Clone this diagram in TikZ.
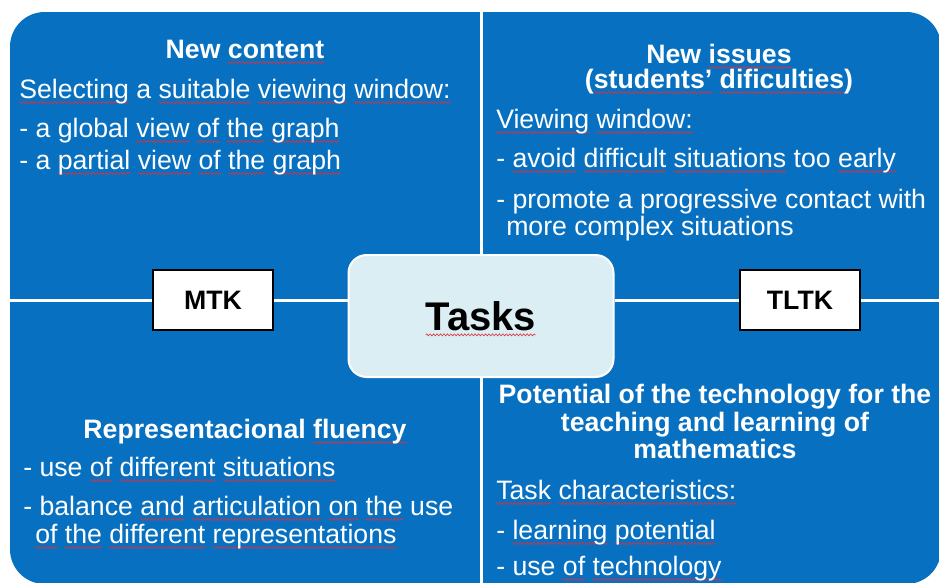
\documentclass[tikz,border=0pt]{standalone}
\usepackage{fontspec}
\setmainfont{Liberation Sans}
\usetikzlibrary{positioning,decorations.pathmorphing}
\definecolor{Panel}{HTML}{0870C0}
\definecolor{TaskFill}{HTML}{DAEEF3}
\definecolor{Squiggle}{HTML}{E0303A}
\newsavebox{\SpBox}
\newcommand{\Sp}[1]{%
  \sbox{\SpBox}{#1}%
  \rlap{\tikz[baseline=0pt]\draw[overlay,sharp corners,Squiggle,line width=0.45pt,decorate,
    decoration={zigzag,amplitude=0.75pt,segment length=2.6pt}] (0pt,-3.4pt) -- (\wd\SpBox,-3.4pt);}%
  \usebox{\SpBox}%
}
\newcommand{\BodyLine}[4]{%
  \node[txt,anchor=base west] (#1) at (#2,#3) {#4};%
}
\newcommand{\HeadLine}[4]{%
  \node[head,anchor=base] (#1) at (#2,#3) {#4};%
}
\tikzset{
  txt/.style={text=white,inner sep=0pt,font=\fontsize{20}{24}\selectfont},
  head/.style={txt,font=\fontsize{20}{24}\selectfont\bfseries},
  link/.style={white,line width=2.25pt},
  kbox/.style={draw=black,fill=white,line width=1.1pt,minimum width=90pt,minimum height=45pt,
    inner sep=0pt,font=\fontsize{20}{24}\selectfont\bfseries},
}

\begin{document}
\begin{tikzpicture}[x=0.75pt,y=-0.75pt]
\useasboundingbox (0,0) rectangle (939,582);
\fill[white] (0,0) rectangle (939,582);
\fill[Panel,rounded corners=26pt] (10,12) rectangle (941,584);
\coordinate (westEnd) at (10,300);
\coordinate (eastEnd) at (941,300);
\coordinate (northEnd) at (481,12);
\coordinate (southEnd) at (481,584);
% centre and the two knowledge boxes
\node[draw=white,fill=TaskFill,line width=1.5pt,rounded corners=13.5pt,minimum width=198.75pt,
  minimum height=91.5pt,font=\fontsize{30}{34}\selectfont\bfseries] (Tasks) at (481,316) {\Sp{Tasks}};
\node[kbox] (MTK) at (213,300) {MTK};
\node[kbox] (TLTK) at (800,300) {TLTK};
\draw[link] (westEnd) -- (MTK);
\draw[link] (MTK) -- (MTK -| Tasks.west);
\draw[link] (Tasks.east |- TLTK) -- (TLTK);
\draw[link] (TLTK) -- (eastEnd);
\draw[link] (northEnd) -- (Tasks);
\draw[link] (Tasks) -- (southEnd);
% top left
\HeadLine{hNew}{245}{58}{New \Sp{content}}
\BodyLine{bSel}{19}{98}{\Sp{Selecting} a \Sp{suitable} \Sp{viewing} \Sp{window:}}
\BodyLine{bGlob}{19}{137}{- a global \Sp{view} \Sp{of} \Sp{the} \Sp{graph}}
\BodyLine{bPart}{19}{169}{- a \Sp{partial} \Sp{view} \Sp{of} \Sp{the} \Sp{graph}}
% top right
\HeadLine{hIss}{719}{63}{New \Sp{issues}}
\HeadLine{hStu}{719}{88}{(\Sp{students’} \Sp{dificulties})}
\BodyLine{bView}{496}{128}{\Sp{Viewing} \Sp{window:}}
\BodyLine{bAvoid}{496}{167}{- \Sp{avoid} \Sp{difficult} \Sp{situations} too \Sp{early}}
\BodyLine{bProm}{496}{208}{- promote a progressive contact with}
\BodyLine{bMore}{506}{235}{more complex situations}
% bottom left
\HeadLine{hRep}{245}{438}{Representacional \Sp{fluency}}
\BodyLine{bUse}{23}{476}{- use \Sp{of} \Sp{different} \Sp{situations}}
\BodyLine{bBal}{23}{515}{- balance \Sp{and} \Sp{articulation} \Sp{on} \Sp{the} use}
\BodyLine{bOf}{35}{543}{\Sp{of} \Sp{the} \Sp{different} \Sp{representations}}
% bottom right
\HeadLine{hPot}{715}{403}{Potential of the technology for the}
\HeadLine{hTea}{715}{431}{teaching and learning of}
\HeadLine{hMat}{715}{458}{mathematics}
\BodyLine{bChar}{496}{499}{\Sp{Task} \Sp{characteristics:}}
\BodyLine{bLearn}{496}{539}{- \Sp{learning} \Sp{potential}}
\BodyLine{bTech}{496}{575}{- use \Sp{of} \Sp{technology}}
\end{tikzpicture}
\end{document}
